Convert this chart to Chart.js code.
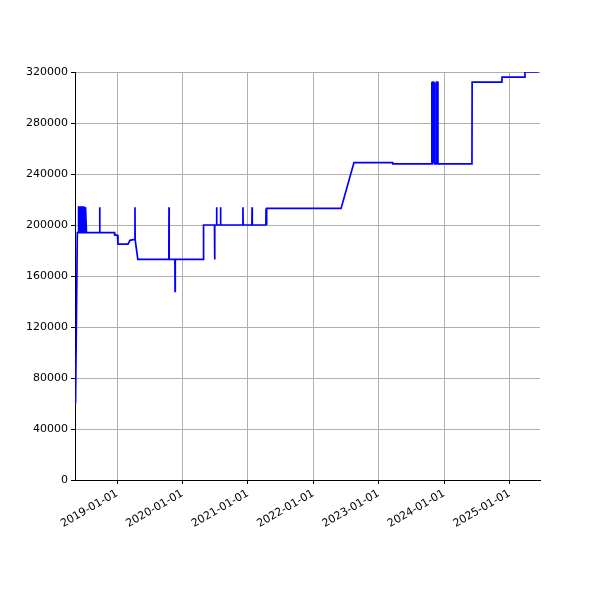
<!DOCTYPE html>
<html>
<head>
<script src="https://cdn.jsdelivr.net/npm/chart.js@4"></script>
<style>body{margin:0;background:#fff}</style>
</head>
<body>
<canvas id="myChart" width="600" height="600"></canvas>
<script>
const dates = ['2018-05-14','2018-05-24','2018-05-30','2018-05-31','2018-06-04','2018-06-05','2018-06-10','2018-06-11','2018-06-16','2018-06-17','2018-06-23','2018-06-24','2018-06-30','2018-07-01','2018-07-08','2018-07-09','2018-07-14','2018-09-25','2018-09-26','2018-09-27',
  '2018-12-18','2018-12-19','2019-01-03','2019-01-06','2019-03-03','2019-03-14','2019-03-31','2019-04-10','2019-04-11','2019-04-12','2019-04-27',
  '2019-10-17','2019-10-18','2019-10-19','2019-11-20','2019-11-21','2019-11-22','2020-04-27','2020-04-28','2020-06-28','2020-06-29','2020-06-30',
  '2020-07-09','2020-07-10','2020-07-11','2020-07-31','2020-08-01','2020-08-02','2020-12-03','2020-12-04','2020-12-05','2021-01-23','2021-01-24','2021-01-25',
  '2021-04-11','2021-04-12','2021-04-15','2021-04-16','2022-06-05','2022-08-16','2023-03-20','2023-03-21',
  '2023-10-24','2023-10-25','2023-10-27','2023-10-28','2023-11-03','2023-11-04','2023-11-10','2023-11-11','2023-11-20','2023-11-21','2023-11-27','2023-11-28',
  '2024-06-05','2024-06-06','2024-11-19','2024-11-20','2025-03-27','2025-03-28','2025-06-12'];
const values = [60000,194000,194000,214000,214000,194000,194000,214000,214000,194000,194000,214000,214000,194000,194000,214000,194000,194000,214000,194000,
  194000,192000,192000,185000,185000,188000,188500,188500,214000,188500,173000,
  173000,214000,173000,173000,148000,173000,173000,200000,200000,173000,200000,
  200000,214000,200000,200000,214000,200000,200000,214000,200000,200000,214000,200000,
  200000,213000,200000,213000,213000,249000,249000,248000,
  248000,312000,248000,312000,312000,248000,312000,248000,248000,312000,312000,248000,
  248000,312000,312000,316000,316000,320000,320000];
const yearTicks = ['2019-01-01','2020-01-01','2021-01-01','2022-01-01','2023-01-01','2024-01-01','2025-01-01'];
const yTicks = [0,40000,80000,120000,160000,200000,240000,280000,320000];

const toDay = s => Date.parse(s + 'T00:00:00Z');
const points = dates.map((d, i) => ({x: toDay(d), y: values[i]}));
const fmt = v => new Date(v).toISOString().slice(0, 10);

const ctx = document.getElementById('myChart').getContext('2d');
let myChart = new Chart(ctx, {
    type: 'line',
    data: {
        datasets: [{
            data: points,
            borderColor: '#0000ff',
            borderWidth: 1.7,
            pointRadius: 0,
            tension: 0
        }]
    },
    options: {
        responsive: false,
        animation: false,
        layout: {padding: {top: 72, right: 60}},
        plugins: {legend: {display: false}, tooltip: {enabled: false}},
        scales: {
            x: {
                type: 'linear',
                min: toDay('2018-05-11'),
                max: toDay('2025-06-20'),
                afterBuildTicks: s => { s.ticks = yearTicks.map(d => ({value: toDay(d)})); },
                afterFit: s => { s.height = 120; },
                ticks: {
                    callback: v => fmt(v),
                    minRotation: 30, maxRotation: 30,
                    color: '#000', font: {family: 'DejaVu Sans', size: 11}
                },
                grid: {color: '#b0b0b0', tickColor: '#000', tickLength: 4},
                border: {color: '#000'}
            },
            y: {
                min: 0, max: 320000,
                afterBuildTicks: s => { s.ticks = yTicks.map(v => ({value: v})); },
                afterFit: s => { s.width = 75; },
                ticks: {callback: v => String(v), color: '#000', font: {family: 'DejaVu Sans', size: 11}},
                grid: {color: '#b0b0b0', tickColor: '#000', tickLength: 4},
                border: {color: '#000'}
            }
        }
    }
});
</script>
</body>
</html>
